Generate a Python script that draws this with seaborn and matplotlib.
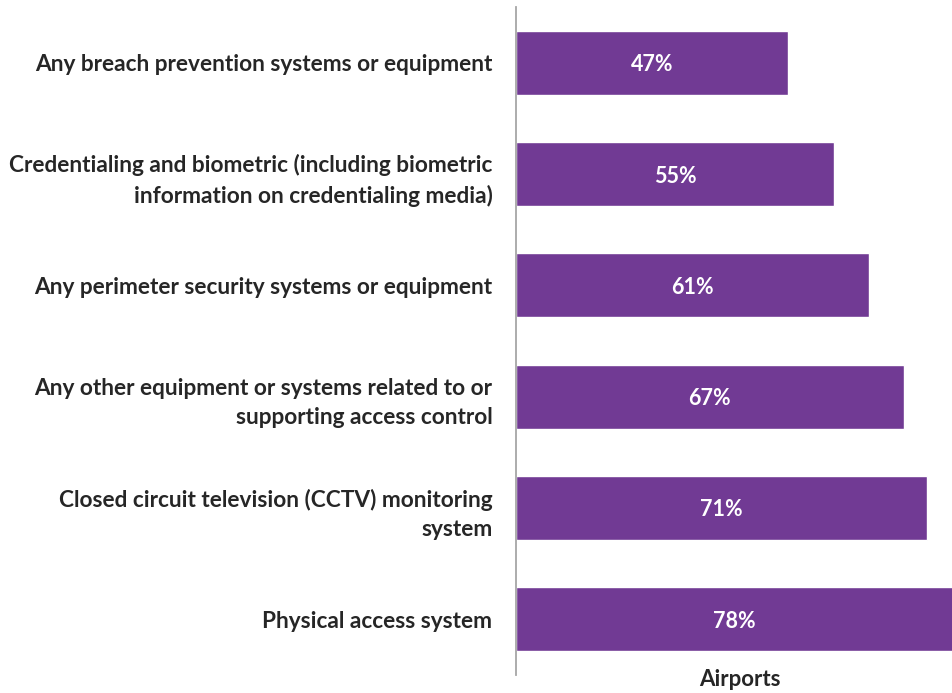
import matplotlib
matplotlib.use("Agg")
import matplotlib.pyplot as plt
import seaborn as sns
import pandas as pd

categories = [
    "Any breach prevention systems or equipment",
    "Credentialing and biometric (including biometric\ninformation on credentialing media)",
    "Any perimeter security systems or equipment",
    "Any other equipment or systems related to or\nsupporting access control",
    "Closed circuit television (CCTV) monitoring\nsystem",
    "Physical access system",
]
values = [47, 55, 61, 67, 71, 78]
group_label = "Airports"

df = pd.DataFrame({"category": categories, "share": values})

sns.set_theme(style="white")
plt.rcParams["font.family"] = ["Lato", "DejaVu Sans"]

fig = plt.figure(figsize=(9.53, 6.93), dpi=100)
ax = fig.add_axes([516 / 953, 1 - 675 / 693, 1 - 516 / 953, (675 - 7) / 693])

bar_color = "#713A94"
sns.barplot(data=df, x="share", y="category", orient="h", color=bar_color,
            width=0.575, saturation=1, ax=ax)

ax.set_xlim(0, 75.5)
ax.set_ylim(5.5, -0.5)

for container in ax.containers:
    texts = ax.bar_label(container, labels=[f"{v}%" for v in values],
                         label_type="center", color="white",
                         fontsize=15.5, fontweight="bold")
    for t in texts:
        t.set_va("center_baseline")

ax.set_xlabel("")
ax.set_ylabel("")
ax.set_xticks([])
ax.tick_params(axis="y", length=0, pad=17, labelsize=16.3)
for lbl in ax.get_yticklabels():
    lbl.set_fontweight("bold")
    lbl.set_color("#262626")
    lbl.set_multialignment("right")
    lbl.set_linespacing(1.5)

for side in ["top", "right", "bottom"]:
    ax.spines[side].set_visible(False)
ax.spines["left"].set_color("#A6A6A6")
ax.spines["left"].set_linewidth(1.3)

fig.text(740 / 953, 1 - 679 / 693, group_label, ha="center", va="center",
         fontsize=16, fontweight="bold", color="#262626")

fig.savefig("out.png", dpi=100)
